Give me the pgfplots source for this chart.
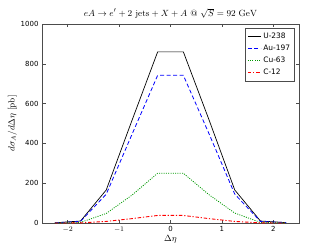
\documentclass[border=0pt]{standalone}
\usepackage[no-math]{fontspec}
\setmainfont{DejaVu Sans}
\usepackage{pgfplots}
\pgfplotsset{compat=1.18}
\definecolor{mplred}{rgb}{1,0,0}
\definecolor{mplgreen}{rgb}{0,0.6,0}
\definecolor{mplblue}{rgb}{0,0,1}
\begin{document}
\begin{tikzpicture}[x=1bp,y=1bp]
\begin{axis}[
  name=ax,
  scale only axis,
  width=257bp, height=199bp,
  xmin=-2.5, xmax=2.5, ymin=0, ymax=1000,
  xtick={-2,-1,0,1,2},
  ytick={0,200,400,600,800,1000},
  tick align=inside,
  major tick length=3.5bp,
  minor tick num=0,
  axis line style={black!70, line width=0.8pt},
  tick style={black!70, line width=0.6pt},
  /pgf/number format/assume math mode=true,
  xticklabels={$-2$,$-1$,0,1,2},
  tick label style={font=\fontsize{7}{8}\selectfont},
  yticklabel style={/pgf/number format/1000 sep={}},
  title={$eA\rightarrow e' + 2\ \mathrm{jets} + X + A\ @\ \sqrt{S}=92\ \mathrm{GeV}$},
  title style={font=\fontsize{9.5}{10}\selectfont, yshift=-4bp},
  xlabel={$\Delta\eta$},
  ylabel={$d\sigma_{A}/d\Delta\eta\ \mathrm{[pb]}$},
  xlabel style={font=\fontsize{9.5}{10}\selectfont, yshift=3bp},
  ylabel style={font=\fontsize{9}{10}\selectfont, yshift=-3bp},
  legend style={at={(0.984,0.98)}, anchor=north east, draw=black!70, line width=0.6pt,
    font=\fontsize{7.5}{9}\selectfont, row sep=1.2pt, inner sep=2.5pt, cells={anchor=west}},
  legend image code/.code={\draw plot coordinates {(0bp,0bp) (13bp,0bp)};},
  legend cell align=left,
]
\addplot[color=black, line width=0.7pt] coordinates {
(-2.25,1) (-1.75,10) (-1.25,166) (-0.75,515) (-0.25,860) (0.25,860) (0.75,518) (1.25,166) (1.75,10) (2.25,2)};
\addlegendentry{U-238}
\addplot[color=mplblue, line width=0.8pt, dash pattern=on 4bp off 2.5bp] coordinates {
(-2.25,1) (-1.75,8) (-1.25,145) (-0.75,445) (-0.25,742) (0.25,742) (0.75,448) (1.25,145) (1.75,8) (2.25,2)};
\addlegendentry{Au-197}
\addplot[color=mplgreen, line width=0.8pt, dash pattern=on 1bp off 1.3bp] coordinates {
(-2.25,0.3) (-1.75,3) (-1.25,48) (-0.75,140) (-0.25,250) (0.25,250) (0.75,142) (1.25,50) (1.75,3) (2.25,0.5)};
\addlegendentry{Cu-63}
\addplot[color=mplred, line width=0.9pt, dash pattern=on 3.5bp off 1.8bp on 1.2bp off 1.8bp] coordinates {
(-2.25,0) (-1.75,0.5) (-1.25,8) (-0.75,22) (-0.25,38) (0.25,38) (0.75,22) (1.25,8) (1.75,0.5) (2.25,0)};
\addlegendentry{C-12}
\end{axis}
\path (ax.south west) ++(-42bp,-26bp) coordinate (bl);
\path (ax.north east) ++(33bp,24bp) coordinate (tr);
\useasboundingbox (bl) rectangle (tr);
\end{tikzpicture}
\end{document}
